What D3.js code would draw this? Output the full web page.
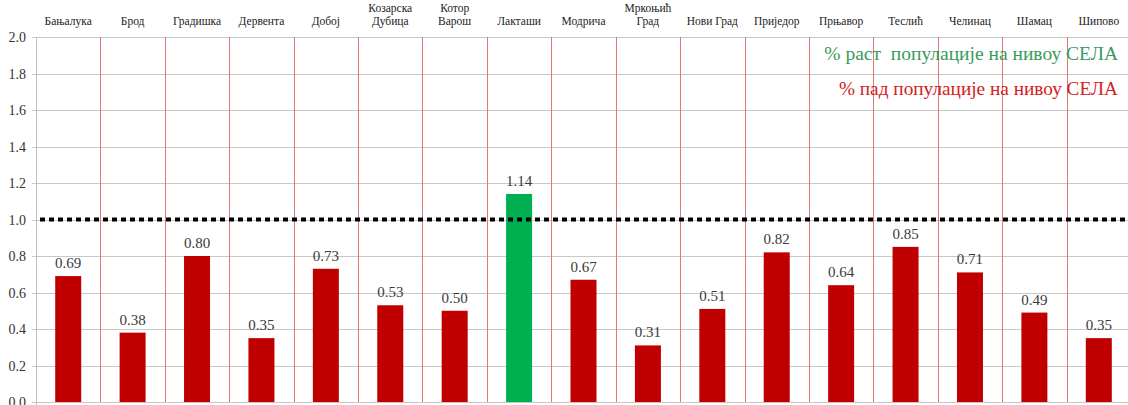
<!DOCTYPE html>
<html>
<head>
<meta charset="utf-8">
<script src="https://cdn.jsdelivr.net/npm/d3@7"></script>
<style>
  body { margin: 0; background: #fff; }
  svg text { font-family: "Liberation Serif", "DejaVu Serif", serif; }
</style>
</head>
<body>
<svg id="chart" width="1128" height="405"></svg>
<script>
// data
var cities = ["Бањалука", "Брод", "Градишка", "Дервента", "Добој", "Козарска\nДубица", "Котор\nВарош",
  "Лакташи", "Модрича", "Мркоњић\nГрад", "Нови Град", "Приједор", "Прњавор", "Теслић", "Челинац", "Шамац", "Шипово"];
var ratio = [0.69, 0.38, 0.80, 0.35, 0.73, 0.53, 0.50, 1.14, 0.67, 0.31, 0.51, 0.82, 0.64, 0.85, 0.71, 0.49, 0.35];
var yTicks = [0, 0.2, 0.4, 0.6, 0.8, 1.0, 1.2, 1.4, 1.6, 1.8, 2.0];
var legendUp = "% раст  популације на нивоу СЕЛА";
var legendDown = "% пад популације на нивоу СЕЛА";

var svg = d3.select("#chart");
var plotLeft = 36, plotRight = 1131, plotTop = 37, plotBottom = 402;

var x = d3.scaleBand().domain(cities).range([plotLeft, plotRight]).padding(0);
var y = d3.scaleLinear().domain([0, 2]).range([plotBottom, plotTop]);

// horizontal grid
svg.append("g")
  .selectAll("line")
  .data(yTicks)
  .enter()
  .append("line")
  .attr("x1", plotLeft - 4)
  .attr("x2", plotRight)
  .attr("y1", d => Math.round(y(d)) + 0.5)
  .attr("y2", d => Math.round(y(d)) + 0.5)
  .attr("stroke", "#c8c8c8")
  .attr("stroke-width", 1);

// y labels
svg.append("g")
  .selectAll("text")
  .data(yTicks)
  .enter()
  .append("text")
  .attr("x", 26)
  .attr("y", d => y(d) + 5)
  .attr("text-anchor", "end")
  .attr("font-size", 14)
  .attr("fill", "#333")
  .text(d => d3.format(".1f")(d));

// vertical separators between cities
svg.append("g")
  .selectAll("line")
  .data(cities.slice(1))
  .enter()
  .append("line")
  .attr("x1", d => Math.round(x(d)) + 0.5)
  .attr("x2", d => Math.round(x(d)) + 0.5)
  .attr("y1", plotTop)
  .attr("y2", plotBottom)
  .attr("stroke", "#e07878")
  .attr("stroke-width", 1);

svg.append("line")
  .attr("x1", plotLeft + 0.5).attr("x2", plotLeft + 0.5)
  .attr("y1", plotTop).attr("y2", plotBottom + 3)
  .attr("stroke", "#c0c0c0");

// bars
var barW = 26;
svg.append("g")
  .selectAll("rect")
  .data(ratio)
  .enter()
  .append("rect")
  .attr("x", (d, i) => x(cities[i]) + x.bandwidth() / 2 - barW / 2)
  .attr("y", d => y(d))
  .attr("width", barW)
  .attr("height", d => plotBottom - y(d))
  .attr("fill", d => d > 1 ? "#00b050" : "#c00000");

// value labels
svg.append("g")
  .selectAll("text")
  .data(ratio)
  .enter()
  .append("text")
  .attr("x", (d, i) => x(cities[i]) + x.bandwidth() / 2)
  .attr("y", d => y(d) - 8)
  .attr("text-anchor", "middle")
  .attr("font-size", 15)
  .attr("fill", "#3a3a3a")
  .text(d => d3.format(".2f")(d));

// the 1.0 reference line
svg.append("line")
  .attr("x1", plotLeft + 4)
  .attr("x2", 1128)
  .attr("y1", y(1))
  .attr("y2", y(1))
  .attr("stroke", "#000")
  .attr("stroke-width", 4)
  .attr("stroke-dasharray", "5,4");

// city names on top
var names = svg.append("g")
  .selectAll("text")
  .data(cities)
  .enter()
  .append("text")
  .attr("text-anchor", "middle")
  .attr("font-size", 11.5)
  .attr("fill", "#222");

names.each(function (d) {
  var parts = d.split("\n");
  var t = d3.select(this);
  var cx = x(d) + x.bandwidth() / 2;
  var y0 = parts.length > 1 ? 12 : 25;
  parts.forEach((p, k) => {
    t.append("tspan").attr("x", cx).attr("y", y0 + k * 13).text(p);
  });
});

// legend
svg.append("text")
  .attr("x", 1118)
  .attr("y", 60)
  .attr("text-anchor", "end")
  .attr("font-size", 19.5)
  .attr("fill", "#3a9a5c")
  .attr("xml:space", "preserve")
  .style("white-space", "pre")
  .text(legendUp);

svg.append("text")
  .attr("x", 1118)
  .attr("y", 95)
  .attr("text-anchor", "end")
  .attr("font-size", 19.3)
  .attr("fill", "#d42020")
  .text(legendDown);
</script>
</body>
</html>
